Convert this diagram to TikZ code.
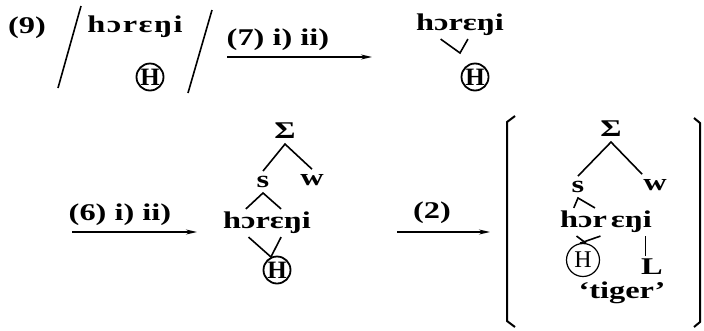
\documentclass[tikz,border=0pt]{standalone}
\usepackage{fontspec}
\setmainfont{Liberation Serif}[FakeStretch=1.35]
\newfontfamily\tonefont{Liberation Serif}
\usetikzlibrary{arrows.meta,calc}
\tikzset{
  ling/.style={font=\fontsize{24}{26}\selectfont\bfseries, inner sep=1pt},
  tnode/.style={ling, inner ysep=5pt},
  word/.style={ling, inner xsep=0pt, inner ysep=3pt},
  tone/.style={circle, draw, line width=1.8pt, inner sep=0pt, minimum size=27pt,
    font=\tonefont\fontsize{25}{27}\selectfont\bfseries},
  assoc/.style={line width=1.6pt},
  rule/.style={line width=1.6pt, -{Stealth[length=11pt,width=5pt]}},
}

\begin{document}
\begin{tikzpicture}[x=1pt,y=-1pt]
\useasboundingbox (0,0) rectangle (704,330);

\node[ling] (ex) at (27,28) {(9)};
\draw[assoc] (81,6) -- (58,88);
\draw[assoc] (212,10) -- (188,93);
\node[word] (wA) at (135,27) {h\kern1.5pt ɔ\kern1.5pt r\kern1.5pt ɛ\kern1.5pt ŋ\kern1.5pt i};
\node[tone] (hA) at (150,77) {H};

\coordinate (a1) at (227,57);
\coordinate (b1) at (372,57);
\draw[rule] (a1) -- (b1);
\node[ling] (r1) at (278,40) {(7) i) ii)};

\node[word] (wB) at (460,25) {hɔrɛŋi};
\coordinate (vB) at (460,53);
\draw[assoc] ($(wB.south west)!.28!(wB.south east)$) -- (vB) -- ($(wB.south west)!.59!(wB.south east)$);
\node[tone] (hB) at (475,77) {H};

\coordinate (a2) at (72,232);
\coordinate (b2) at (197,232);
\draw[rule] (a2) -- (b2);
\node[ling] (r2) at (120,215) {(6) i) ii)};

\node[tnode] (S1) at (285,131) {Σ};
\node[tnode] (s1) at (263,182) {s};
\node[tnode] (w1) at (312,180) {w};
\node[word] (wM) at (267,223) {hɔrɛŋi};
\node[tone] (hM) at (277,270) {H};
\draw[assoc] (s1.north) -- (S1.south) -- (w1.north);
\draw[assoc] ($(wM.north west)!.26!(wM.north east)$) -- (s1.south) -- ($(wM.north west)!.66!(wM.north east)$);
\draw[assoc] ($(wM.south west)!.29!(wM.south east)$) -- (hM.115) -- ($(wM.south west)!.66!(wM.south east)$);

\coordinate (a3) at (397,232);
\coordinate (b3) at (490,232);
\draw[rule] (a3) -- (b3);
\node[ling] (r3) at (432,213) {(2)};

\draw[line width=2pt] (515,116) -- (507,122) -- (507,321) -- (515,327);
\draw[line width=2pt] (694,118) -- (700,123) -- (700,322) -- (694,327);

\node[tnode] (S2) at (611,129) {Σ};
\node[tnode] (s2) at (578,187) {s};
\node[tnode] (w2) at (655,185) {w};
\node[word] (wR) at (606,222) {hɔr\,ɛŋi};
\node[tone, line width=1.2pt, minimum size=33pt, font=\tonefont\fontsize{24}{26}\selectfont] (hR) at (583,260) {H};
\node[word] (L) at (652,267) {L};
\node[ling] (gl) at (622,293) {‘tiger’};
\draw[assoc] (s2.north) -- (S2.south) -- (w2.north west);
\draw[assoc] ($(wR.north west)!.15!(wR.north east)$) -- (s2.south) -- ($(wR.north west)!.38!(wR.north east)$);
\draw[assoc] ($(wR.south west)!.18!(wR.south east)$) -- (hR.80);
\draw[assoc] ($(wR.south west)!.44!(wR.south east)$) -- (hR.100);
\coordinate (iR) at ($(wR.south west)!.93!(wR.south east)$);
\draw[assoc, line width=1pt] (iR) -- (iR |- L.north);
\end{tikzpicture}
\end{document}
